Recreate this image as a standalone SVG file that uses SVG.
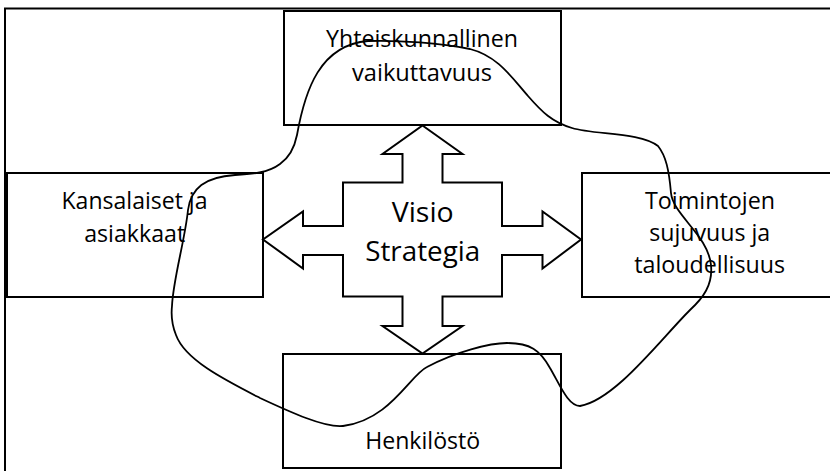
<svg xmlns="http://www.w3.org/2000/svg" width="830" height="471" viewBox="0 0 830 471">
  <style>
    .box { fill: #ffffff; stroke: #000000; stroke-width: 2; }
    .frame { fill: none; stroke: #000000; stroke-width: 2; }
    .label { font-family: "Open Sans", "Noto Sans", sans-serif; font-size: 23px; fill: #000000; text-anchor: middle; }
    .big { font-size: 28px; }
    .loop { fill: none; stroke: #000000; stroke-width: 1.8; stroke-linejoin: round; }
  </style>

  <rect width="830" height="471" fill="#ffffff"/>

  <!-- page frame: top and left rules -->
  <g id="frame">
    <line class="frame" x1="4" y1="8.5" x2="830" y2="8.5"/>
    <line class="frame" x1="5" y1="8" x2="5" y2="471"/>
  </g>

  <g id="node-yhteiskunnallinen">
    <rect class="box" x="284" y="11" width="277" height="114"/>
    <text class="label" x="422" y="47" textLength="192" lengthAdjust="spacingAndGlyphs">Yhteiskunnallinen</text>
    <text class="label" x="422" y="80.5" textLength="140" lengthAdjust="spacingAndGlyphs">vaikuttavuus</text>
  </g>

  <g id="node-kansalaiset">
    <rect class="box" x="7" y="173" width="256" height="124"/>
    <text class="label" x="134.5" y="209" textLength="146" lengthAdjust="spacingAndGlyphs">Kansalaiset ja</text>
    <text class="label" x="134.7" y="241.5" textLength="101" lengthAdjust="spacingAndGlyphs">asiakkaat</text>
  </g>

  <g id="node-toiminnot">
    <rect class="box" x="582" y="173" width="252" height="124"/>
    <text class="label" x="710" y="209" textLength="130" lengthAdjust="spacingAndGlyphs">Toimintojen</text>
    <text class="label" x="709.7" y="241" textLength="121" lengthAdjust="spacingAndGlyphs">sujuvuus ja</text>
    <text class="label" x="709.7" y="273.3" textLength="151" lengthAdjust="spacingAndGlyphs">taloudellisuus</text>
  </g>

  <g id="node-henkilosto">
    <rect class="box" x="283" y="354" width="278" height="114"/>
    <text class="label" x="422.7" y="449" textLength="115" lengthAdjust="spacingAndGlyphs">Henkilöstö</text>
  </g>

  <!-- central four-way arrow -->
  <g id="node-strategia">
    <path class="box" d="M 422.5,125.5 L 462.5,154 L 442.5,154 L 442.5,182.5 L 502,182.5 L 502,226 L 542.5,226 L 542.5,211.5 L 581,239.5 L 542.5,268.5 L 542.5,255 L 502,255 L 502,296.5 L 442.5,296.5 L 442.5,326 L 462.5,326 L 422.5,353.5 L 382.5,326 L 402.5,326 L 402.5,296.5 L 343,296.5 L 343,255 L 303,255 L 303,268.5 L 263,239.5 L 303,211.5 L 303,226 L 343,226 L 343,182.5 L 402.5,182.5 L 402.5,154 L 382.5,154 Z"/>
    <text class="label big" x="422.7" y="221.5" textLength="62" lengthAdjust="spacingAndGlyphs">Visio</text>
    <text class="label big" x="422.7" y="260.5" textLength="115" lengthAdjust="spacingAndGlyphs">Strategia</text>
  </g>

  <!-- hand-drawn loop around the four perspectives -->
  <g id="connectors">
    <path class="loop" d="M 297,135
      C 305,90 320,45 368,41
      C 400,40 440,43 470,49
      C 498,56 512,78 528,96
      C 542,112 552,122 572,128
      C 595,135 640,132 658,146
      C 666,156 669,170 671,193
      C 673,215 708,235 711,265
      C 713,285 703,298 690,310
      C 660,340 615,400 580,406
      C 568,406 560,385 550,368
      C 540,350 530,343 507,343
      C 490,343 455,352 427,367
      C 410,375 390,420 343,426
      C 325,428 290,412 260,398
      C 225,380 185,360 176,335
      C 172,325 171,315 172,306
      C 173,280 185,240 188,210
      C 191,188 205,177 235,175
      C 252,174 268,173 280,164
      C 290,157 295,145 297,135 Z"/>
  </g>
</svg>
